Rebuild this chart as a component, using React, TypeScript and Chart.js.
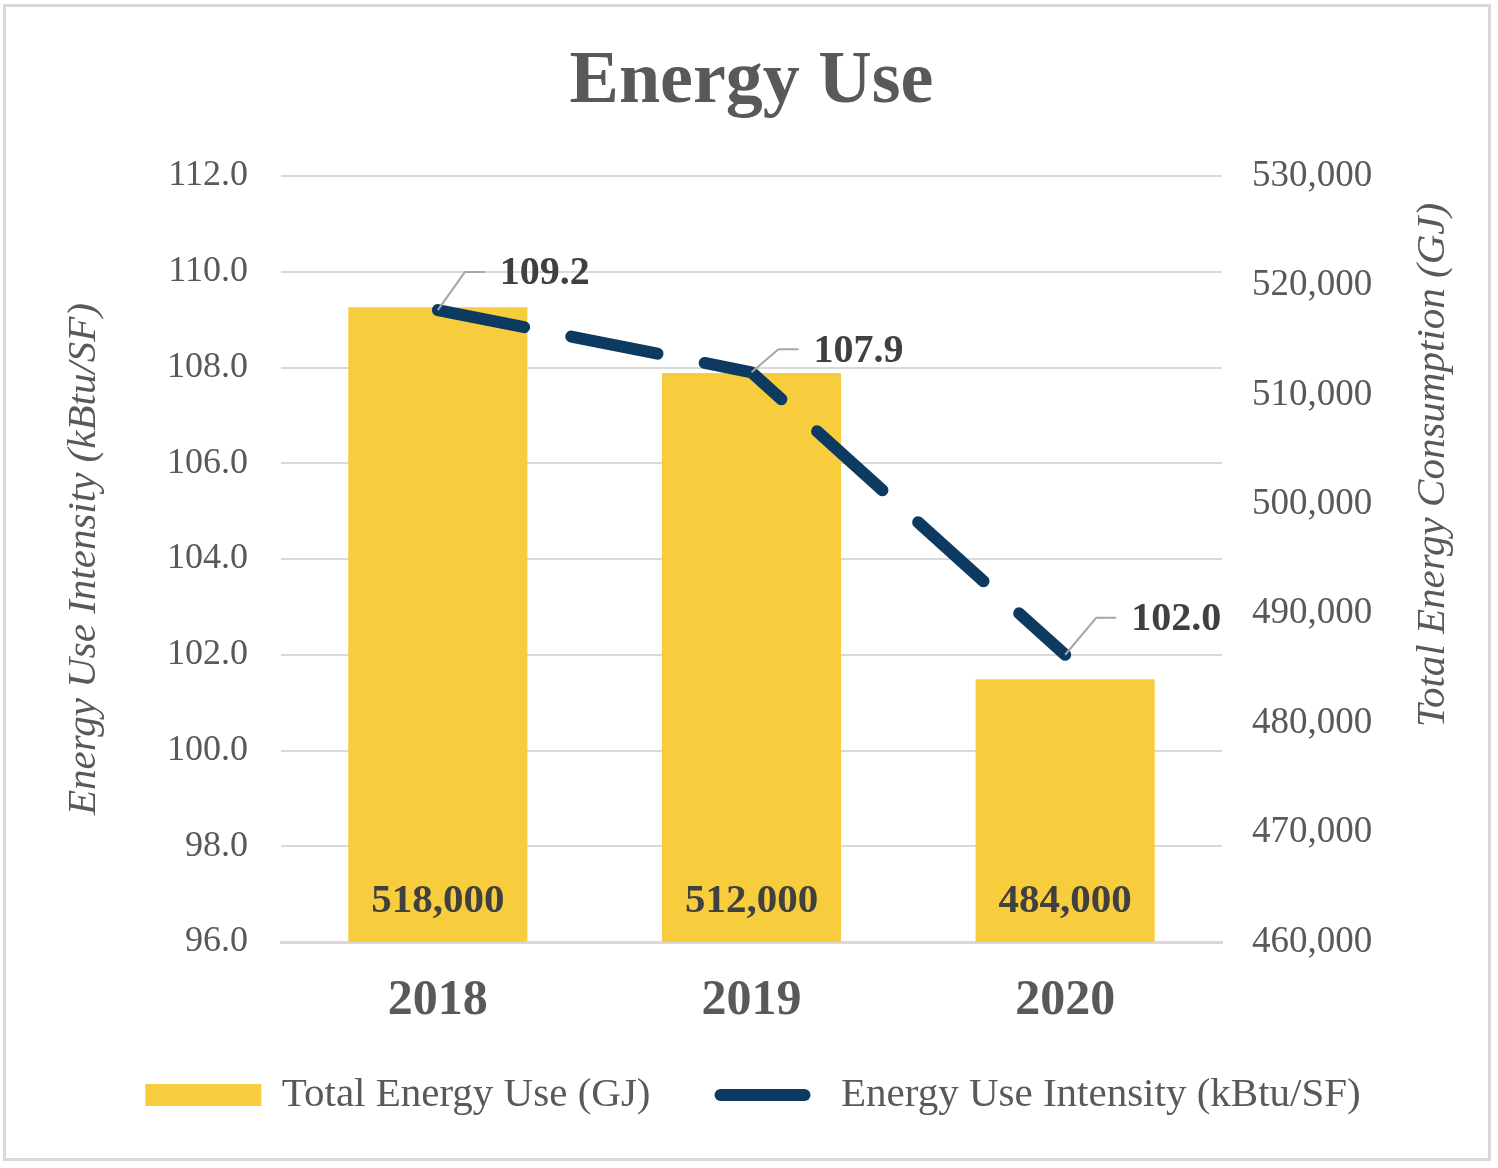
import React, { useEffect, useRef } from 'react';
import { Chart, registerables } from 'chart.js';

Chart.register(...registerables);

// ---------- data ----------
const YEARS = ['2018', '2019', '2020'];
const TOTAL_ENERGY_GJ = [518000, 512000, 484000];
const EUI_KBTU_SF = [109.2, 107.9, 102.0];
const EUI_TICK_VALUES = [96, 98, 100, 102, 104, 106, 108, 110, 112];
const GJ_TICK_VALUES = [460000, 470000, 480000, 490000, 500000, 510000, 520000, 530000];
const BAR_LABEL = 'Total Energy Use (GJ)';
const LINE_LABEL = 'Energy Use Intensity (kBtu/SF)';
const CHART_TITLE = 'Energy Use';
const LEFT_AXIS_TITLE = 'Energy Use Intensity (kBtu/SF)';
const RIGHT_AXIS_TITLE = 'Total Energy Consumption (GJ)';

// ---------- style ----------
const FONT = "'Liberation Serif', 'Times New Roman', serif";
const BAR_COLOR = '#F7CD3E';
const LINE_COLOR = '#0C3A60';
const TEXT_GRAY = '#595959';
const LABEL_DARK = '#404040';
const GRID_GRAY = '#D9D9D9';
const LEADER_GRAY = '#A6A6A6';
// label placement (text-left / text-middle offset from each point), styling only
const EUI_LABEL_OFFSETS: [number, number][] = [[62, -36], [62, -21], [66, -35]];

const W = 1498;
const H = 1168;
const PLOT_LEFT = 281;
const PLOT_RIGHT = 1222;
const LAYOUT_LEFT = 8;
const LEGEND_PAD = 54;
const LEGEND_FONT = 41;
const LEGEND_TOP = 1020.5;
const LEGEND_HEIGHT = LEGEND_FONT + LEGEND_PAD + 10;
const PLOT_BOTTOM = 942;

const fmtThousands = (v: number) => String(Math.round(v)).replace(/\B(?=(\d{3})+(?!\d))/g, ',');

const decorPlugin = {
  id: 'decor',
  beforeDraw(chart: any) {
    const ctx = chart.ctx;
    ctx.save();
    ctx.strokeStyle = GRID_GRAY;
    ctx.lineWidth = 3;
    ctx.strokeRect(4.5, 5.5, 1485, 1154);
    ctx.restore();
  },
  afterDatasetsDraw(chart: any) {
    const ctx = chart.ctx;
    const area = chart.chartArea;
    ctx.save();

    // bar value labels
    const barMeta = chart.getDatasetMeta(1);
    ctx.font = `bold 41px ${FONT}`;
    ctx.fillStyle = LABEL_DARK;
    ctx.textAlign = 'center';
    ctx.textBaseline = 'middle';
    barMeta.data.forEach((el: any, i: number) => {
      const v = chart.data.datasets[1].data[i] as number;
      ctx.fillText(fmtThousands(v), el.x, area.bottom - 41);
    });

    // line value labels with leader lines
    const lineMeta = chart.getDatasetMeta(0);
    ctx.font = `bold 40px ${FONT}`;
    ctx.textAlign = 'left';
    lineMeta.data.forEach((pt: any, i: number) => {
      const v = chart.data.datasets[0].data[i] as number;
      const [dx, dy] = EUI_LABEL_OFFSETS[i];
      const tx = pt.x + dx;
      const ty = pt.y + dy;
      ctx.strokeStyle = LEADER_GRAY;
      ctx.lineWidth = 2;
      ctx.beginPath();
      ctx.moveTo(pt.x, pt.y);
      ctx.lineTo(tx - 35, ty - 2);
      ctx.lineTo(tx - 15, ty - 2);
      ctx.stroke();
      ctx.fillStyle = LABEL_DARK;
      ctx.fillText(v.toFixed(1), tx, ty);
    });

    // axis titles (both read bottom-to-top)
    ctx.font = `italic 41px ${FONT}`;
    ctx.fillStyle = TEXT_GRAY;
    ctx.textAlign = 'center';
    ctx.textBaseline = 'alphabetic';
    const midY = (area.top + area.bottom) / 2;
    ctx.save();
    ctx.translate(95, midY);
    ctx.rotate(-Math.PI / 2);
    ctx.fillText(LEFT_AXIS_TITLE, 0, 0);
    ctx.restore();
    ctx.save();
    ctx.translate(1444, midY - 94);
    ctx.rotate(-Math.PI / 2);
    ctx.fillText(RIGHT_AXIS_TITLE, 0, 0);
    ctx.restore();

    ctx.restore();
  },
};

export default function App() {
  const canvasRef = useRef<HTMLCanvasElement | null>(null);

  useEffect(() => {
    if (!canvasRef.current) return;
    const chart = new Chart(canvasRef.current, {
      type: 'bar',
      data: {
        labels: YEARS,
        datasets: [
          {
            type: 'line',
            label: LINE_LABEL,
            data: EUI_KBTU_SF,
            yAxisID: 'y',
            borderColor: LINE_COLOR,
            backgroundColor: LINE_COLOR,
            borderWidth: 12,
            borderDash: [88, 48],
            borderCapStyle: 'round',
            borderJoinStyle: 'round',
            pointRadius: 0,
            pointHoverRadius: 0,
            pointStyle: 'line',
            tension: 0,
            fill: false,
            order: 0,
          } as any,
          {
            type: 'bar',
            label: BAR_LABEL,
            data: TOTAL_ENERGY_GJ,
            yAxisID: 'y1',
            backgroundColor: BAR_COLOR,
            borderWidth: 0,
            categoryPercentage: 1,
            barPercentage: 0.571,
            order: 1,
          } as any,
        ],
      },
      options: {
        responsive: false,
        animation: false,
        devicePixelRatio: 1,
        layout: {
          padding: {
            left: LAYOUT_LEFT,
            right: 0,
            top: 0,
            bottom: H - LEGEND_TOP - LEGEND_HEIGHT,
          },
        },
        plugins: {
          tooltip: { enabled: false },
          title: {
            display: true,
            fullSize: false,
            text: CHART_TITLE,
            color: TEXT_GRAY,
            font: { family: FONT, size: 74, weight: 'bold', lineHeight: 1.2 },
            padding: { top: 38.6, bottom: 48.6 },
          },
          legend: {
            display: true,
            position: 'bottom',
            labels: {
              usePointStyle: true,
              pointStyleWidth: 116,
              boxHeight: 22,
              padding: LEGEND_PAD,
              color: TEXT_GRAY,
              font: { family: FONT, size: LEGEND_FONT },
              generateLabels: (chart: any) => [
                {
                  text: chart.data.datasets[1].label,
                  fillStyle: BAR_COLOR,
                  strokeStyle: BAR_COLOR,
                  lineWidth: 0,
                  pointStyle: 'rect',
                  hidden: false,
                  datasetIndex: 1,
                  fontColor: TEXT_GRAY,
                },
                {
                  text: chart.data.datasets[0].label,
                  fillStyle: LINE_COLOR,
                  strokeStyle: LINE_COLOR,
                  lineWidth: 12,
                  lineCap: 'round',
                  lineDash: [84, 300],
                  lineDashOffset: -16,
                  pointStyle: 'line',
                  hidden: false,
                  datasetIndex: 0,
                  fontColor: TEXT_GRAY,
                },
              ],
            },
          },
        },
        scales: {
          x: {
            grid: { display: false, drawTicks: false },
            border: { display: true, color: GRID_GRAY, width: 3 },
            ticks: {
              color: TEXT_GRAY,
              font: { family: FONT, size: 50, weight: 'bold', lineHeight: 1.2 },
              padding: 29,
              maxRotation: 0,
              autoSkip: false,
            },
            afterFit: (scale: any) => {
              scale.height = LEGEND_TOP - PLOT_BOTTOM;
            },
          },
          y: {
            position: 'left',
            min: EUI_TICK_VALUES[0],
            max: EUI_TICK_VALUES[EUI_TICK_VALUES.length - 1],
            grid: { color: GRID_GRAY, lineWidth: 2, drawTicks: false },
            border: { display: false },
            ticks: {
              stepSize: EUI_TICK_VALUES[1] - EUI_TICK_VALUES[0],
              color: TEXT_GRAY,
              font: { family: FONT, size: 36 },
              padding: 33,
              callback: (v: any) => Number(v).toFixed(1),
            },
            afterFit: (scale: any) => {
              scale.width = PLOT_LEFT - LAYOUT_LEFT;
            },
          },
          y1: {
            position: 'right',
            min: GJ_TICK_VALUES[0],
            max: GJ_TICK_VALUES[GJ_TICK_VALUES.length - 1],
            grid: { display: false, drawTicks: false },
            border: { display: false },
            ticks: {
              stepSize: GJ_TICK_VALUES[1] - GJ_TICK_VALUES[0],
              color: TEXT_GRAY,
              font: { family: FONT, size: 37 },
              padding: 30,
              callback: (v: any) => fmtThousands(Number(v)),
            },
            afterFit: (scale: any) => {
              scale.width = W - PLOT_RIGHT;
            },
          },
        },
      } as any,
      plugins: [decorPlugin],
    });
    return () => chart.destroy();
  }, []);

  return (
    <div style={{ position: 'absolute', left: 0, top: 0, width: W, height: H, background: '#fff' }}>
      <canvas ref={canvasRef} width={W} height={H} style={{ display: 'block' }} />
    </div>
  );
}
